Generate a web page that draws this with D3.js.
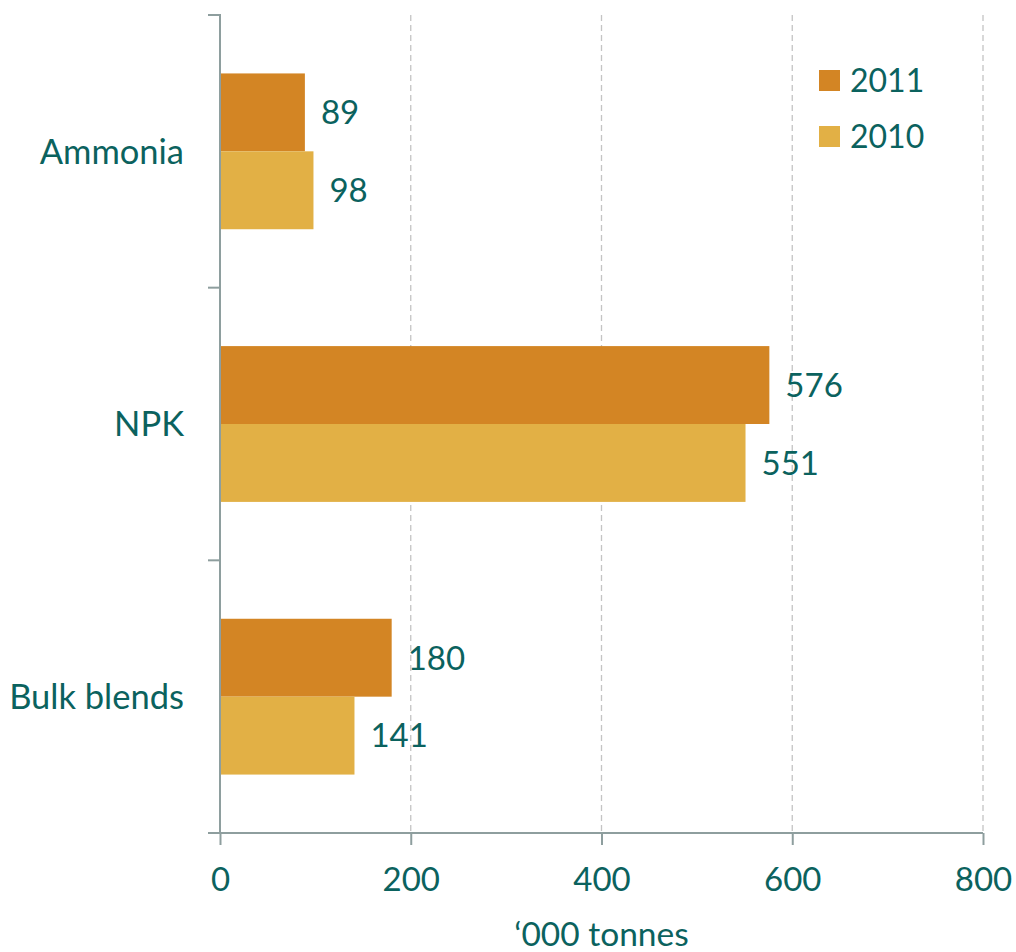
<!DOCTYPE html>
<html><head><meta charset="utf-8">
<script src="https://cdn.jsdelivr.net/npm/d3@7"></script>
<style>body{margin:0;background:#fff}svg{display:block}</style>
</head><body>
<script>
const categories = ["Ammonia", "NPK", "Bulk blends"];
const series = ["2011", "2010"];
const values2011 = [89, 576, 180];
const values2010 = [98, 551, 141];
const xTicks = [0, 200, 400, 600, 800];
const xTitle = "\u2018000 tonnes";

const colors = {"2011": "#D38524", "2010": "#E2B045"};
const textColor = "#0B625E";
const axisColor = "#8E9E9E";
const font = "Lato, 'Open Sans', sans-serif";

const W = 1016, H = 952;
const svg = d3.select("body").append("svg").attr("width", W).attr("height", H);

const x = d3.scaleLinear().domain([0, 800]).range([220, 983]);
const y0 = d3.scaleBand().domain(categories).range([15, 833]).padding(0);
const y1 = d3.scaleBand().domain(series).range([0, y0.bandwidth()]).paddingInner(0).paddingOuter(0.75);

// gridlines
svg.append("g").selectAll("line").data(xTicks.filter(d => d > 0)).join("line")
  .attr("x1", d => x(d)).attr("x2", d => x(d))
  .attr("y1", 15).attr("y2", 833)
  .attr("stroke", "#C4C4C4").attr("stroke-width", 1.3).attr("stroke-dasharray", "6,4");

// bars
const data = categories.map((c, i) => ({cat: c, vals: [{s: "2011", v: values2011[i]}, {s: "2010", v: values2010[i]}]}));
const groups = svg.append("g").selectAll("g").data(data).join("g")
  .attr("transform", d => `translate(0,${y0(d.cat)})`);
groups.selectAll("rect").data(d => d.vals).join("rect")
  .attr("x", x(0)).attr("y", d => y1(d.s))
  .attr("width", d => x(d.v) - x(0)).attr("height", y1.bandwidth())
  .attr("fill", d => colors[d.s]);
groups.selectAll("text").data(d => d.vals).join("text")
  .attr("x", d => x(d.v) + 16).attr("y", d => y1(d.s) + y1.bandwidth() / 2)
  .attr("dy", "0.36em")
  .attr("font-family", font).attr("font-size", 33).attr("fill", textColor)
  .text(d => d.v);

// y axis
const yAxisG = svg.append("g");
yAxisG.append("line").attr("x1", x(0)).attr("x2", x(0)).attr("y1", 14).attr("y2", 833)
  .attr("stroke", axisColor).attr("stroke-width", 2);
const yTickPos = categories.map(c => y0(c)).concat([y0.range()[1]]);
yAxisG.selectAll("line.t").data(yTickPos).join("line").attr("class", "t")
  .attr("x1", 208).attr("x2", x(0)).attr("y1", d => d).attr("y2", d => d)
  .attr("stroke", axisColor).attr("stroke-width", 2);
yAxisG.selectAll("text").data(categories).join("text")
  .attr("x", 184).attr("y", d => y0(d) + y0.bandwidth() / 2).attr("dy", "0.36em")
  .attr("text-anchor", "end").attr("font-family", font).attr("font-size", 34.5).attr("fill", textColor)
  .text(d => d);

// x axis
const xAxis = d3.axisBottom(x).tickValues(xTicks).tickSize(12).tickPadding(23).tickFormat(d3.format("d"));
const xg = svg.append("g").attr("transform", "translate(0,833)").call(xAxis);
xg.select(".domain").attr("d", `M208,0H983`).attr("stroke", axisColor).attr("stroke-width", 2);
xg.selectAll(".tick line").attr("stroke", axisColor).attr("stroke-width", 2);
xg.selectAll(".tick text").attr("font-family", font).attr("font-size", 33).attr("fill", textColor);

svg.append("text").attr("x", (x(0) + x(800)) / 2).attr("y", 946)
  .attr("text-anchor", "middle").attr("font-family", font).attr("font-size", 33.5).attr("fill", textColor)
  .text(xTitle);

// legend
const leg = svg.append("g").selectAll("g").data(series).join("g")
  .attr("transform", (d, i) => `translate(819,${70 + i * 56})`);
leg.append("rect").attr("width", 21).attr("height", 21).attr("fill", d => colors[d]);
leg.append("text").attr("x", 31).attr("y", 10.5).attr("dy", "0.36em")
  .attr("font-family", font).attr("font-size", 32).attr("fill", textColor).text(d => d);
</script>
</body></html>
